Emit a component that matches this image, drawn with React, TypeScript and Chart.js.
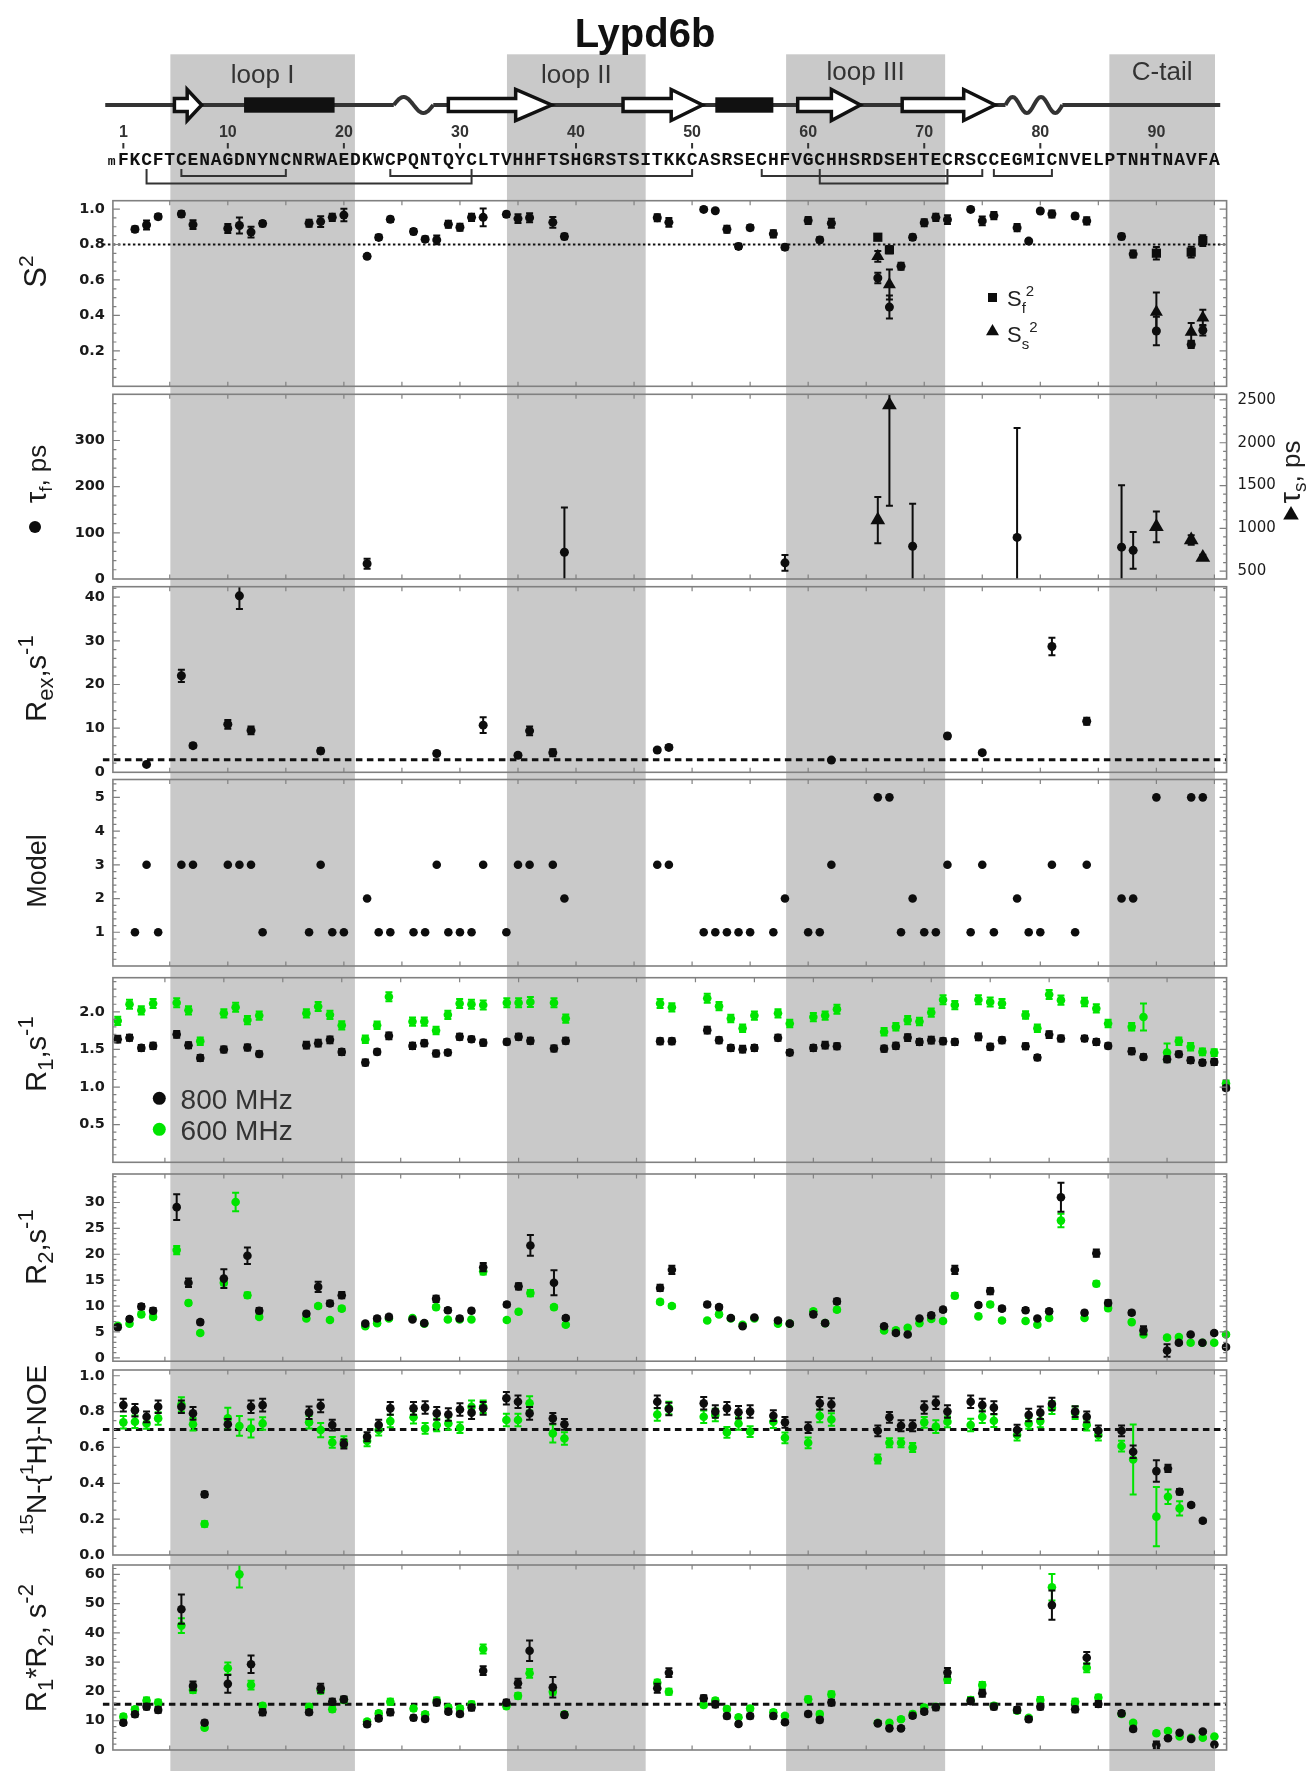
import React, { useEffect, useRef } from "react";
import { Chart, registerables } from "chart.js";
Chart.register(...registerables);

// ---------------- page / layout constants ----------------
const PAGE_W = 1306;
const PAGE_H = 1771;
const PLOT_LEFT = 112.9;
const PLOT_RIGHT = 1226.6;
const AXIS_W = 60;
const MARGIN = 26;
const SANS = '"Liberation Sans", Arial, sans-serif';
const TICKF = '"DejaVu Sans", sans-serif';
const MONO = '"Liberation Mono", "DejaVu Sans Mono", monospace';
const BLACK = "#0d0d0d";
const GREEN = "#00e400";
const FRAME = "#808080";
const BAND_COLOR = "#c9c9c9";
const BAND_TOP = 54.3;

// residue ranges of the x axes
const X_MAIN = [0.1, 96.05];
const X_RELAX = [0.59, 95.05];

// ---------------- header data ----------------
const TITLE = "Lypd6b";
const SEQUENCE = "mFKCFTCENAGDNYNCNRWAEDKWCPQNTQYCLTVHHFTSHGRSTSITKKCASRSECHFVGCHHSRDSEHTECRSCCEGMICNVELPTNHTNAVFA";
const RES_LABELS = [1, 10, 20, 30, 40, 50, 60, 70, 80, 90];
const REGIONS = [[5.05, 20.95], [34.05, 46], [58.1, 71.8], [85.95, 95.05]];
const REGION_NAMES = ["loop I", "loop II", "loop III", "C-tail"];
const REGION_LABEL_BASE = [83, 83, 80, 80];
const BACKBONE = [-0.56, 95.5];
const HELICES = [[11.4, 19.2], [52.0, 57.0]];
const STRANDS = [[5.4, 6.5, 7.75], [29.0, 34.8, 37.9], [44.05, 48.2, 50.9], [59.1, 62.0, 64.5], [68.1, 73.4, 76.1]];
const WAVES = [[24.3, 27.7, 1], [77.0, 81.9, 2]];
const DISULFIDES = [[3, 31, 1], [6, 15, 0], [24, 50, 0], [56, 75, 0], [61, 72, 1], [76, 81, 0]];

// ---------------- S2 panel ----------------
const s2Res = [2, 3, 4, 6, 7, 10, 11, 12, 13, 17, 18, 19, 20, 22, 23, 24, 26, 27, 28, 29, 30, 31, 32, 34, 35, 36, 38, 39, 47, 48,
  51, 52, 53, 54, 55, 57, 58, 60, 61, 62, 66, 67, 68, 69, 70, 71, 72, 74, 75, 76, 78, 79, 80, 81, 83, 84, 87, 88, 90, 93, 94];
const s2Val = [0.886, 0.91, 0.957, 0.972, 0.912, 0.89, 0.907, 0.87, 0.918, 0.92, 0.929, 0.953, 0.966, 0.733, 0.84, 0.942,
  0.873, 0.83, 0.826, 0.914, 0.897, 0.953, 0.953, 0.97, 0.946, 0.951, 0.925, 0.845, 0.951, 0.925,
  0.998, 0.99, 0.886, 0.789, 0.895, 0.86, 0.785, 0.935, 0.826, 0.92, 0.611, 0.447, 0.677, 0.841, 0.923, 0.953, 0.94,
  0.998, 0.933, 0.963, 0.895, 0.819, 0.989, 0.972, 0.96, 0.933, 0.845, 0.746, 0.312, 0.236, 0.316];
const s2Err = [0.015, 0.025, 0.015, 0.015, 0.025, 0.025, 0.045, 0.03, 0.015, 0.02, 0.03, 0.02, 0.035, 0.01, 0.015, 0.015,
  0.015, 0.015, 0.025, 0.02, 0.02, 0.02, 0.05, 0.015, 0.025, 0.025, 0.03, 0.015, 0.02, 0.025,
  0.01, 0.01, 0.02, 0.015, 0.015, 0.02, 0.015, 0.02, 0.015, 0.025, 0.03, 0.065, 0.02, 0.015, 0.02, 0.02, 0.025,
  0.01, 0.025, 0.02, 0.02, 0.01, 0.01, 0.02, 0.015, 0.02, 0.015, 0.02, 0.08, 0.02, 0.03];
const sf2Res = [66, 67, 90, 93, 94];
const sf2Val = [0.841, 0.77, 0.751, 0.757, 0.822];
const sf2Err = [0.01, 0.02, 0.035, 0.03, 0.03];
const ss2Res = [66, 67, 90, 93, 94];
const ss2Val = [0.733, 0.574, 0.419, 0.307, 0.387];
const ss2Err = [0.03, 0.085, 0.11, 0.05, 0.045];

// ---------------- tau panel ----------------
const tauFRes = [22, 39, 58, 69, 78, 87, 88];
const tauFVal = [33, 58, 35, 71, 90, 69, 62];
const tauFErr = [11, 97, 17, 92, 237, 134, 40];
const tauSRes = [66, 67, 90, 93, 94];
const tauSVal = [1096, 2441, 1018, 863, 660];
const tauSErr = [270, 1177, 180, 55, 30];

// ---------------- Rex panel ----------------
const rexRes = [3, 6, 7, 10, 11, 12, 18, 28, 32, 35, 36, 38, 47, 48, 62, 72, 75, 81, 84];
const rexVal = [1.7, 22.0, 6.0, 10.9, 40.3, 9.5, 4.8, 4.2, 10.7, 3.8, 9.4, 4.4, 5.0, 5.6, 2.7, 8.2, 4.4, 28.7, 11.6];
const rexErr = [0.3, 1.4, 0.5, 1.0, 3.0, 0.9, 0.6, 0.4, 1.8, 0.4, 1.0, 0.8, 0.4, 0.5, 0.3, 0.5, 0.4, 2.0, 0.8];

// ---------------- Model panel ----------------
const modelRes = s2Res;
const modelVal = [1, 3, 1, 3, 3, 3, 3, 3, 1, 1, 3, 1, 1, 2, 1, 1, 1, 1, 3, 1, 1, 1, 3, 1, 3, 3, 3, 2, 3, 3,
  1, 1, 1, 1, 1, 1, 2, 1, 1, 3, 5, 5, 1, 2, 1, 1, 3, 1, 3, 1, 2, 1, 1, 3, 1, 3, 2, 2, 5, 5, 5];

// ---------------- relaxation residues ----------------
const blackRes = [1, 2, 3, 4, 6, 7, 8, 10, 12, 13, 17, 18, 19, 20, 22, 23, 24, 26, 27, 28, 29, 30, 31, 32, 34, 35, 36, 38, 39,
  47, 48, 51, 52, 53, 54, 55, 57, 58, 60, 61, 62, 66, 67, 68, 69, 70, 71, 72, 74, 75, 76, 78, 79, 80, 81, 83, 84, 85, 87, 88,
  90, 91, 92, 93, 94, 95];
const greenRes = [1, 2, 3, 4, 6, 7, 8, 10, 11, 12, 13, 17, 18, 19, 20, 22, 23, 24, 26, 27, 28, 29, 30, 31, 32, 34, 35, 36, 38, 39,
  47, 48, 51, 52, 53, 54, 55, 57, 58, 60, 61, 62, 66, 67, 68, 69, 70, 71, 72, 74, 75, 76, 78, 79, 80, 81, 83, 84, 85, 87, 88,
  90, 91, 92, 93, 94, 95];
const noeBlackRes = [1, 2, 3, 4, 6, 7, 8, 10, 12, 13, 17, 18, 19, 20, 22, 23, 24, 26, 27, 28, 29, 30, 31, 32, 34, 35, 36, 38, 39,
  47, 48, 51, 52, 53, 54, 55, 57, 58, 60, 61, 62, 66, 67, 68, 69, 70, 71, 72, 74, 75, 76, 78, 79, 80, 81, 83, 84, 85, 87, 88,
  90, 91, 92, 93, 94];
const noeGreenRes = [1, 2, 3, 4, 6, 7, 8, 10, 11, 12, 13, 17, 18, 19, 20, 22, 23, 24, 26, 27, 28, 29, 30, 31, 32, 34, 35, 36, 38, 39,
  47, 48, 51, 52, 53, 54, 55, 57, 58, 60, 61, 62, 66, 67, 68, 69, 70, 71, 72, 74, 75, 76, 78, 79, 80, 81, 83, 84, 85, 87, 88,
  90, 91, 92];

// ---------------- R1 ----------------
const r1BlackVal = [1.636, 1.654, 1.52, 1.547, 1.70, 1.556, 1.387, 1.498, 1.525, 1.44, 1.556, 1.583, 1.627, 1.467,
  1.325, 1.467, 1.68, 1.547, 1.583, 1.445, 1.458, 1.667, 1.636, 1.59, 1.60, 1.667, 1.614, 1.512, 1.614,
  1.61, 1.61, 1.756, 1.623, 1.52, 1.503, 1.52, 1.654, 1.458, 1.52, 1.556, 1.543,
  1.51, 1.547, 1.658, 1.60, 1.623, 1.61, 1.60, 1.667, 1.534, 1.623, 1.543, 1.392, 1.698, 1.645,
  1.645, 1.60, 1.547, 1.476, 1.40, 1.37, 1.436, 1.356, 1.325, 1.334, 0.988];
const r1BlackErr = [0.045, 0.04, 0.04, 0.04, 0.045, 0.04, 0.04, 0.04, 0.04, 0.035, 0.045, 0.045, 0.045, 0.04,
  0.04, 0.035, 0.045, 0.04, 0.04, 0.04, 0.035, 0.04, 0.035, 0.04, 0.035, 0.04, 0.04, 0.04, 0.04,
  0.04, 0.04, 0.045, 0.04, 0.04, 0.045, 0.04, 0.04, 0.035, 0.04, 0.045, 0.04,
  0.04, 0.04, 0.045, 0.04, 0.045, 0.04, 0.04, 0.045, 0.04, 0.04, 0.04, 0.035, 0.045, 0.04,
  0.035, 0.04, 0.035, 0.04, 0.035, 0.04, 0.035, 0.035, 0.035, 0.04, 0.03];
const r1GreenVal = [1.88, 2.10, 2.02, 2.11, 2.12, 2.02, 1.61, 1.98, 2.06, 1.89, 1.95, 1.98, 2.07, 1.96, 1.82,
  1.636, 1.82, 2.20, 1.87, 1.87, 1.75, 1.96, 2.11, 2.10, 2.09, 2.12, 2.12, 2.13, 2.12, 1.91,
  2.11, 2.06, 2.18, 2.075, 1.91, 1.78, 1.95, 1.98, 1.845, 1.93, 1.95, 2.035,
  1.734, 1.80, 1.89, 1.87, 1.99, 2.16, 2.09, 2.16, 2.13, 2.11, 1.956, 1.78, 2.23, 2.155,
  2.13, 2.044, 1.845, 1.80, 1.93, 1.458, 1.61, 1.534, 1.467, 1.458, 1.046];
const r1GreenErr = [0.055, 0.06, 0.055, 0.06, 0.06, 0.055, 0.05, 0.055, 0.06, 0.055, 0.055, 0.055, 0.06, 0.055, 0.055,
  0.05, 0.05, 0.06, 0.055, 0.055, 0.05, 0.055, 0.06, 0.06, 0.06, 0.06, 0.06, 0.065, 0.06, 0.055,
  0.06, 0.055, 0.06, 0.055, 0.05, 0.05, 0.055, 0.055, 0.05, 0.055, 0.055, 0.06,
  0.05, 0.05, 0.055, 0.05, 0.055, 0.06, 0.055, 0.06, 0.06, 0.06, 0.05, 0.05, 0.06, 0.06,
  0.055, 0.055, 0.05, 0.05, 0.18, 0.12, 0.05, 0.05, 0.045, 0.045, 0.04];

// ---------------- R2 ----------------
const r2BlackVal = [5.9, 7.5, 9.9, 9.1, 29.1, 14.5, 6.9, 15.3, 19.7, 9.1, 8.5, 13.7, 10.5, 12.1, 6.6, 7.6, 7.9,
  7.4, 6.7, 11.4, 9.2, 7.6, 9.1, 17.5, 10.3, 13.8, 21.7, 14.5, 7.7, 13.5, 17.0,
  10.3, 9.8, 7.7, 6.1, 7.8, 7.2, 6.6, 8.4, 6.7, 10.9, 6.1, 4.8, 4.5, 7.6, 8.2, 9.3, 17.0,
  10.2, 12.9, 9.5, 9.2, 7.6, 9.0, 31.0, 8.7, 20.2, 10.6, 8.7, 5.3, 1.4, 2.9, 4.5, 2.9, 4.8, 2.1];
const r2BlackErr = [0.4, 0.4, 0.5, 0.5, 2.5, 0.8, 0.4, 1.8, 1.6, 0.5, 0.4, 1.0, 0.5, 0.6, 0.3, 0.4, 0.4,
  0.3, 0.3, 0.6, 0.4, 0.4, 0.4, 0.8, 0.4, 0.6, 2.0, 2.4, 0.4, 0.6, 0.8,
  0.4, 0.4, 0.3, 0.3, 0.3, 0.3, 0.3, 0.4, 0.3, 0.5, 0.3, 0.3, 0.3, 0.3, 0.4, 0.4, 0.8,
  0.4, 0.6, 0.4, 0.4, 0.3, 0.4, 2.8, 0.4, 0.7, 0.5, 0.4, 0.8, 1.2, 0.3, 0.3, 0.3, 0.3, 0.3];
const r2GreenVal = [6.2, 6.6, 8.4, 7.9, 20.8, 10.6, 4.8, 14.5, 30.1, 12.1, 7.9, 7.6, 10.0, 7.3, 9.5, 6.1, 6.7, 7.6,
  7.7, 6.6, 9.8, 7.4, 7.4, 7.4, 16.7, 7.3, 8.9, 12.5, 9.8, 6.4, 10.8, 10.0,
  7.2, 8.4, 7.6, 6.4, 7.6, 6.6, 6.6, 9.0, 6.7, 9.3, 5.3, 5.3, 5.8, 6.7, 7.5, 7.1, 12.0,
  8.0, 10.3, 7.2, 7.1, 6.4, 7.7, 26.5, 7.7, 14.3, 9.6, 6.9, 4.5, 3.9, 4.0, 2.9, 2.9, 2.9, 4.5];
const r2GreenErr = [0.3, 0.3, 0.4, 0.4, 0.8, 0.4, 0.3, 0.5, 1.8, 0.5, 0.3, 0.3, 0.4, 0.3, 0.4, 0.3, 0.3, 0.3,
  0.3, 0.3, 0.4, 0.3, 0.3, 0.3, 0.6, 0.3, 0.4, 0.6, 0.4, 0.3, 0.4, 0.4,
  0.3, 0.3, 0.3, 0.3, 0.3, 0.3, 0.3, 0.3, 0.3, 0.4, 0.3, 0.3, 0.3, 0.3, 0.3, 0.3, 0.5,
  0.3, 0.4, 0.3, 0.3, 0.3, 0.3, 1.3, 0.3, 0.5, 0.4, 0.3, 0.3, 0.3, 0.3, 0.3, 0.3, 0.3, 0.3];

// ---------------- NOE ----------------
const noeBlackVal = [0.836, 0.808, 0.771, 0.827, 0.827, 0.79, 0.338, 0.729, 0.827, 0.836, 0.794, 0.831, 0.725, 0.619,
  0.66, 0.725, 0.818, 0.818, 0.823, 0.79, 0.784, 0.812, 0.794, 0.818, 0.874, 0.855, 0.79, 0.762, 0.729,
  0.855, 0.814, 0.846, 0.80, 0.818, 0.796, 0.80, 0.777, 0.74, 0.71, 0.846, 0.84,
  0.693, 0.768, 0.721, 0.721, 0.823, 0.849, 0.80, 0.855, 0.836, 0.822, 0.697, 0.781, 0.794, 0.842,
  0.80, 0.771, 0.693, 0.693, 0.576, 0.468, 0.483, 0.353, 0.279, 0.191];
const noeBlackErr = [0.035, 0.035, 0.03, 0.035, 0.035, 0.035, 0.015, 0.03, 0.035, 0.035, 0.035, 0.035, 0.03, 0.025,
  0.025, 0.03, 0.035, 0.035, 0.035, 0.035, 0.035, 0.035, 0.035, 0.035, 0.035, 0.035, 0.035, 0.03, 0.03,
  0.035, 0.035, 0.035, 0.035, 0.035, 0.035, 0.035, 0.03, 0.03, 0.03, 0.035, 0.035,
  0.03, 0.03, 0.03, 0.03, 0.035, 0.035, 0.035, 0.035, 0.035, 0.035, 0.03, 0.035, 0.035, 0.035,
  0.03, 0.03, 0.03, 0.03, 0.035, 0.06, 0.02, 0.015, 0.01, 0.01];
const noeGreenVal = [0.74, 0.743, 0.734, 0.762, 0.84, 0.729, 0.173, 0.762, 0.72, 0.706, 0.734, 0.74, 0.697, 0.628, 0.632,
  0.636, 0.697, 0.747, 0.768, 0.706, 0.725, 0.734, 0.71, 0.827, 0.827, 0.753, 0.753, 0.846, 0.678, 0.65,
  0.784, 0.82, 0.771, 0.781, 0.684, 0.734, 0.688, 0.743, 0.654, 0.626, 0.775, 0.756,
  0.535, 0.626, 0.626, 0.60, 0.74, 0.716, 0.743, 0.725, 0.771, 0.749, 0.669, 0.734, 0.747, 0.822,
  0.794, 0.725, 0.669, 0.608, 0.533, 0.214, 0.325, 0.26];
const noeGreenErr = [0.035, 0.035, 0.03, 0.035, 0.04, 0.035, 0.015, 0.06, 0.055, 0.05, 0.035, 0.035, 0.04, 0.03, 0.03,
  0.03, 0.03, 0.035, 0.035, 0.03, 0.035, 0.035, 0.03, 0.035, 0.035, 0.035, 0.035, 0.04, 0.05, 0.035,
  0.035, 0.035, 0.035, 0.035, 0.03, 0.035, 0.03, 0.035, 0.03, 0.03, 0.035, 0.035,
  0.025, 0.025, 0.025, 0.025, 0.03, 0.035, 0.03, 0.035, 0.035, 0.035, 0.03, 0.03, 0.035, 0.035,
  0.035, 0.03, 0.03, 0.03, 0.195, 0.165, 0.04, 0.04];

// ---------------- R1*R2 ----------------
const rrBlackVal = [9.3, 12.2, 14.8, 13.7, 48.1, 21.9, 9.3, 22.6, 29.3, 12.9, 12.9, 21.1, 16.5, 17.3, 8.8, 10.8, 12.9,
  11.0, 10.6, 16.2, 13.1, 12.3, 14.5, 27.1, 16.2, 22.8, 33.9, 21.4, 12.0, 21.1, 26.4,
  17.7, 15.6, 11.6, 8.9, 11.6, 11.6, 9.5, 12.3, 10.3, 16.2, 9.1, 7.4, 7.4, 11.7, 13.1, 14.6, 26.5,
  16.7, 19.4, 14.8, 13.7, 10.5, 14.8, 49.5, 13.9, 31.5, 15.7, 12.5, 7.2, 1.7, 4.0, 5.9, 3.8, 6.3, 1.9];
const rrBlackErr = [0.8, 0.8, 1.0, 1.0, 5.0, 1.5, 0.8, 3.0, 3.0, 1.0, 0.8, 1.5, 1.0, 1.0, 0.8, 0.8, 1.0,
  0.8, 0.8, 1.0, 0.8, 0.8, 1.0, 1.5, 1.0, 1.5, 3.5, 3.5, 0.8, 1.5, 1.5,
  1.0, 1.0, 0.8, 0.6, 0.8, 0.8, 0.6, 0.8, 0.8, 1.0, 0.6, 0.6, 0.6, 0.8, 0.8, 1.0, 1.5,
  1.0, 1.2, 1.0, 1.0, 0.8, 1.0, 5.0, 1.0, 2.0, 1.0, 0.8, 0.8, 1.2, 0.4, 0.5, 0.4, 0.5, 0.3];
const rrGreenVal = [11.4, 13.9, 16.9, 16.2, 42.5, 20.5, 7.6, 27.9, 60.0, 22.2, 15.1, 14.8, 20.3, 13.9, 17.1, 9.7, 12.5, 16.5,
  14.2, 12.2, 16.9, 14.5, 14.2, 15.6, 34.5, 15.0, 18.5, 26.2, 19.9, 12.2, 23.0, 19.9,
  15.4, 16.9, 14.0, 11.2, 14.2, 12.9, 11.7, 17.3, 12.3, 19.0, 9.3, 9.3, 10.5, 12.3, 14.5, 14.8, 24.1,
  17.1, 22.2, 15.1, 13.4, 11.0, 17.1, 55.6, 16.5, 28.1, 17.9, 12.3, 9.3, 5.7, 6.5, 4.6, 4.2, 4.2, 4.6];
const rrGreenErr = [0.8, 0.8, 1.0, 1.0, 2.5, 1.0, 0.6, 2.0, 4.5, 1.5, 0.8, 0.8, 1.0, 0.8, 1.0, 0.6, 0.8, 1.0,
  0.8, 0.8, 1.0, 0.8, 0.8, 1.0, 1.5, 0.8, 1.0, 1.5, 1.0, 0.8, 1.0, 1.0,
  0.8, 0.8, 0.8, 0.6, 0.8, 0.8, 0.6, 1.0, 0.8, 1.0, 0.6, 0.6, 0.6, 0.8, 0.8, 0.8, 1.2,
  1.0, 1.0, 0.8, 0.8, 0.6, 1.0, 4.5, 1.0, 1.5, 1.0, 0.8, 0.6, 0.6, 0.5, 0.4, 0.4, 0.4, 0.4];

// ---------------- helpers ----------------
const pts = (res, val, err) => res.map((r, i) => ({ x: r, y: val[i], e: err ? err[i] : 0 }));

function richText(ctx, segs, x, y, rotate, color, align) {
  ctx.save();
  ctx.translate(x, y);
  if (rotate) ctx.rotate(-Math.PI / 2);
  ctx.fillStyle = color;
  ctx.textBaseline = "alphabetic";
  ctx.textAlign = "left";
  const widths = segs.map((s) => {
    ctx.font = `${s.s}px ${SANS}`;
    return ctx.measureText(s.t).width + (s.gap || 0);
  });
  const total = widths.reduce((a, b) => a + b, 0);
  let cx = align === "left" ? 0 : -total / 2;
  segs.forEach((s, i) => {
    ctx.font = `${s.s}px ${SANS}`;
    ctx.fillText(s.t, cx, s.dy || 0);
    cx += widths[i];
  });
  ctx.restore();
}

function triangle(ctx, x, y, r) {
  ctx.beginPath();
  ctx.moveTo(x, y - r);
  ctx.lineTo(x + r * 0.866, y + r * 0.5);
  ctx.lineTo(x - r * 0.866, y + r * 0.5);
  ctx.closePath();
  ctx.fill();
}

function dot(ctx, x, y, r) {
  ctx.beginPath();
  ctx.arc(x, y, r, 0, Math.PI * 2);
  ctx.fill();
}

const TITLE_X = 46;
const fmt1 = (v) => v.toFixed(1);
const fmt0 = (v) => String(Math.round(v));
const M = 29; // main title size
const SB = 22; // sub/superscript size

// ---------------- panels ----------------
const PANELS = [
  {
    key: "s2", top: 200.7, bottom: 386.3, xr: X_MAIN,
    y: { min: 0, max: 1.047, ticks: [0.2, 0.4, 0.6, 0.8, 1.0], minor: 0.05, fmt: fmt1 },
    series: [
      { data: pts(s2Res, s2Val, s2Err), color: BLACK, style: "circle", radius: 4.5 },
      { data: pts(sf2Res, sf2Val, sf2Err), color: BLACK, style: "rect", radius: 6.5 },
      { data: pts(ss2Res, ss2Val, ss2Err), color: BLACK, style: "triangle", radius: 7.5 },
    ],
    hline: { value: 0.8, dash: [2.5, 2.5], width: 2 },
    title: [{ t: "S", s: 31 }, { t: "2", s: 21, dy: -13 }], titleY: 271.5,
    extra: (ctx) => {
      ctx.fillStyle = BLACK;
      ctx.fillRect(988, 293, 9, 9);
      triangle(ctx, 992.5, 331.5, 7.5);
      richText(ctx, [{ t: "S", s: 22 }, { t: "f", s: 15, dy: 7 }, { t: "2", s: 15, dy: -10 }], 1007, 305.5, false, "#222", "left");
      richText(ctx, [{ t: "S", s: 22 }, { t: "s", s: 15, dy: 7 }, { t: "2", s: 15, dy: -10 }], 1007, 341.5, false, "#222", "left");
    },
  },
  {
    key: "tau", top: 394.3, bottom: 579, xr: X_MAIN,
    y: { min: 0, max: 400, ticks: [0, 100, 200, 300], minor: 20, fmt: fmt0 },
    y2: { min: 408, max: 2566, ticks: [500, 1000, 1500, 2000, 2500], minor: 100, fmt: fmt0 },
    series: [
      { data: pts(tauFRes, tauFVal, tauFErr), color: BLACK, style: "circle", radius: 4.5 },
      { data: pts(tauSRes, tauSVal, tauSErr), color: BLACK, style: "triangle", radius: 8.5, axis: "y2" },
    ],
    title: [{ t: "τ", s: 29 }, { t: "f", s: 19, dy: 6 }, { t: ", ps", s: 26 }], titleY: 474,
    extra: (ctx) => {
      ctx.fillStyle = BLACK;
      dot(ctx, 35, 527, 6);
      richText(ctx, [{ t: "τ", s: 29 }, { t: "s", s: 19, dy: 6 }, { t: ", ps", s: 26 }], 1300, 472, true, "#222", "center");
      triangle(ctx, 1291, 515, 9);
    },
  },
  {
    key: "rex", top: 586.7, bottom: 772.3, xr: X_MAIN,
    y: { min: -0.1, max: 42.4, ticks: [0, 10, 20, 30, 40], minor: 2, fmt: fmt0 },
    series: [{ data: pts(rexRes, rexVal, rexErr), color: BLACK, style: "circle", radius: 4.5 }],
    hline: { value: 2.8, dash: [6.5, 4.5], width: 3 },
    title: [{ t: "R", s: M }, { t: "ex", s: SB, dy: 7 }, { t: ",s", s: M }, { t: "-1", s: SB, dy: -13 }], titleY: 678.5,
  },
  {
    key: "model", top: 779.5, bottom: 966, xr: X_MAIN,
    y: { min: 0, max: 5.53, ticks: [1, 2, 3, 4, 5], minor: 0.2, fmt: fmt0 },
    series: [{ data: pts(modelRes, modelVal, null), color: BLACK, style: "circle", radius: 4.3 }],
    title: [{ t: "Model", s: 27 }], titleY: 871,
  },
  {
    key: "r1", top: 977.7, bottom: 1162.3, xr: X_RELAX,
    y: { min: 0, max: 2.453, ticks: [0.5, 1.0, 1.5, 2.0], minor: 0.1, fmt: fmt1 },
    series: [
      { data: pts(blackRes, r1BlackVal, r1BlackErr), color: BLACK, style: "circle", radius: 4.3 },
      { data: pts(greenRes, r1GreenVal, r1GreenErr), color: GREEN, style: "circle", radius: 4.3 },
    ],
    title: [{ t: "R", s: M }, { t: "1", s: SB, dy: 7 }, { t: ",s", s: M }, { t: "-1", s: SB, dy: -13 }], titleY: 1054,
    extra: (ctx) => {
      ctx.fillStyle = BLACK;
      dot(ctx, 159.3, 1098.3, 6.5);
      ctx.fillStyle = GREEN;
      dot(ctx, 159.3, 1129.3, 6.5);
      ctx.fillStyle = "#333";
      ctx.font = `28px ${SANS}`;
      ctx.textAlign = "left";
      ctx.textBaseline = "alphabetic";
      ctx.fillText("800 MHz", 180.6, 1108.5);
      ctx.fillText("600 MHz", 180.6, 1139.5);
    },
  },
  {
    key: "r2", top: 1174, bottom: 1361.2, xr: X_RELAX,
    y: { min: -0.65, max: 35.5, ticks: [0, 5, 10, 15, 20, 25, 30], minor: 1, fmt: fmt0 },
    series: [
      { data: pts(blackRes, r2BlackVal, r2BlackErr), color: BLACK, style: "circle", radius: 4.3 },
      { data: pts(greenRes, r2GreenVal, r2GreenErr), color: GREEN, style: "circle", radius: 4.3 },
    ],
    title: [{ t: "R", s: M }, { t: "2", s: SB, dy: 7 }, { t: ",s", s: M }, { t: "-1", s: SB, dy: -13 }], titleY: 1247,
  },
  {
    key: "noe", top: 1370, bottom: 1555, xr: X_MAIN,
    y: { min: 0, max: 1.032, ticks: [0, 0.2, 0.4, 0.6, 0.8, 1.0], minor: 0.05, fmt: fmt1 },
    series: [
      { data: pts(noeBlackRes, noeBlackVal, noeBlackErr), color: BLACK, style: "circle", radius: 4.3 },
      { data: pts(noeGreenRes, noeGreenVal, noeGreenErr), color: GREEN, style: "circle", radius: 4.3 },
    ],
    hline: { value: 0.7, dash: [6.5, 4.5], width: 3 },
    title: [{ t: "15", s: 19, dy: -13 }, { t: "N-{", s: 28 }, { t: "1", s: 19, dy: -13 }, { t: "H}-NOE", s: 28 }], titleY: 1450,
  },
  {
    key: "rr", top: 1565, bottom: 1750, xr: X_MAIN,
    y: { min: 0, max: 63.2, ticks: [0, 10, 20, 30, 40, 50, 60], minor: 2, fmt: fmt0 },
    series: [
      { data: pts(blackRes, rrBlackVal, rrBlackErr), color: BLACK, style: "circle", radius: 4.3 },
      { data: pts(greenRes, rrGreenVal, rrGreenErr), color: GREEN, style: "circle", radius: 4.3 },
    ],
    hline: { value: 15.6, dash: [6.5, 4.5], width: 3 },
    title: [{ t: "R", s: M }, { t: "1", s: SB, dy: 7 }, { t: "*R", s: M }, { t: "2", s: SB, dy: 7 }, { t: ", s", s: M }, { t: "-2", s: SB, dy: -13 }], titleY: 1648,
  },
];

function geom(p) {
  const top = Math.floor(p.top) - MARGIN;
  const h = Math.ceil(p.bottom) + MARGIN - top;
  return { top, h, padTop: p.top - top, padBottom: top + h - p.bottom };
}

// ---------------- header chart ----------------
const headerPlugin = {
  id: "header",
  beforeDraw(chart) {
    const ctx = chart.ctx;
    const xs = chart.scales.x;
    const X = (r) => xs.getPixelForValue(r);
    ctx.save();
    ctx.fillStyle = "#fff";
    ctx.fillRect(0, 0, PAGE_W, PAGE_H);
    ctx.fillStyle = BAND_COLOR;
    REGIONS.forEach(([a, b]) => ctx.fillRect(X(a), BAND_TOP, X(b) - X(a), PAGE_H - BAND_TOP));

    ctx.textBaseline = "alphabetic";
    ctx.textAlign = "center";
    ctx.fillStyle = "#111";
    ctx.font = `bold 40px ${SANS}`;
    ctx.fillText(TITLE, 645, 47);

    ctx.fillStyle = "#333";
    ctx.font = `26px ${SANS}`;
    REGION_NAMES.forEach((n, i) => {
      const [a, b] = REGIONS[i];
      ctx.fillText(n, (X(a) + X(b)) / 2, REGION_LABEL_BASE[i]);
    });

    // backbone line with gaps for the wavy loops
    const yc = 105;
    ctx.strokeStyle = "#333";
    ctx.lineWidth = 4;
    ctx.beginPath();
    let start = BACKBONE[0];
    WAVES.forEach(([a, b]) => {
      ctx.moveTo(X(start), yc);
      ctx.lineTo(X(a), yc);
      start = b;
    });
    ctx.moveTo(X(start), yc);
    ctx.lineTo(X(BACKBONE[1]), yc);
    ctx.stroke();
    WAVES.forEach(([a, b, n]) => {
      const x0 = X(a), x1 = X(b);
      ctx.beginPath();
      for (let i = 0; i <= 80; i++) {
        const t = i / 80;
        const px = x0 + t * (x1 - x0);
        const py = yc - 8 * Math.sin(2 * Math.PI * n * t);
        if (i === 0) ctx.moveTo(px, py); else ctx.lineTo(px, py);
      }
      ctx.stroke();
    });

    ctx.fillStyle = "#111";
    HELICES.forEach(([a, b]) => ctx.fillRect(X(a), yc - 7.7, X(b) - X(a), 15.4));

    STRANDS.forEach(([a, h, b]) => {
      const x0 = X(a), xh = X(h), x1 = X(b);
      ctx.beginPath();
      ctx.moveTo(x0, yc - 6.5);
      ctx.lineTo(xh, yc - 6.5);
      ctx.lineTo(xh, yc - 15.5);
      ctx.lineTo(x1, yc);
      ctx.lineTo(xh, yc + 15.5);
      ctx.lineTo(xh, yc + 6.5);
      ctx.lineTo(x0, yc + 6.5);
      ctx.closePath();
      ctx.fillStyle = "#fff";
      ctx.fill();
      ctx.lineWidth = 3.5;
      ctx.lineJoin = "miter";
      ctx.strokeStyle = "#111";
      ctx.stroke();
    });

    ctx.fillStyle = "#333";
    ctx.font = `bold 16px ${SANS}`;
    RES_LABELS.forEach((r) => ctx.fillText(String(r), X(r), 137));
    ctx.strokeStyle = "#333";
    ctx.lineWidth = 2;
    ctx.beginPath();
    RES_LABELS.forEach((r) => {
      ctx.moveTo(X(r), 143);
      ctx.lineTo(X(r), 148.5);
    });
    ctx.stroke();

    ctx.fillStyle = "#111";
    for (let k = 0; k < SEQUENCE.length; k++) {
      ctx.font = k === 0 ? `bold 13px ${MONO}` : `bold 18px ${MONO}`;
      ctx.fillText(SEQUENCE[k], X(k), 164.5);
    }

    ctx.strokeStyle = "#333";
    ctx.lineWidth = 2;
    ctx.beginPath();
    DISULFIDES.forEach(([a, b, lvl]) => {
      const yl = lvl ? 183.5 : 176;
      ctx.moveTo(X(a), 169);
      ctx.lineTo(X(a), yl);
      ctx.lineTo(X(b), yl);
      ctx.lineTo(X(b), 169);
    });
    ctx.stroke();
    ctx.restore();
  },
};

function headerConfig() {
  return {
    type: "scatter",
    data: { datasets: [{ data: [] }] },
    options: {
      responsive: false,
      maintainAspectRatio: false,
      devicePixelRatio: 1,
      animation: false,
      events: [],
      layout: { padding: { left: PLOT_LEFT, right: PAGE_W - PLOT_RIGHT, top: 0, bottom: 0 } },
      plugins: { legend: { display: false }, tooltip: { enabled: false } },
      scales: {
        x: { type: "linear", min: X_MAIN[0], max: X_MAIN[1], display: false },
        y: { type: "linear", min: 0, max: 1, display: false },
      },
    },
    plugins: [headerPlugin],
  };
}

// ---------------- panel charts ----------------
function stepValues(min, max, step) {
  const out = [];
  for (let i = Math.ceil(min / step - 1e-9); i * step <= max + 1e-9; i++) out.push(i * step);
  return out;
}

function panelPlugin(p, g) {
  return {
    id: "deco",
    beforeDatasetsDraw(chart) {
      if (!p.hline) return;
      const ctx = chart.ctx;
      const a = chart.chartArea;
      const y = chart.scales.y.getPixelForValue(p.hline.value);
      ctx.save();
      ctx.setLineDash(p.hline.dash);
      ctx.lineWidth = p.hline.width;
      ctx.strokeStyle = "#111";
      ctx.beginPath();
      ctx.moveTo(a.left - 10, y);
      ctx.lineTo(a.right, y);
      ctx.stroke();
      ctx.restore();
    },
    beforeDatasetDraw(chart, args) {
      const ds = chart.data.datasets[args.index];
      const xs = chart.scales.x;
      const ys = chart.scales[args.meta.yAxisID];
      const a = chart.chartArea;
      const ctx = chart.ctx;
      ctx.save();
      ctx.strokeStyle = ds.pointBackgroundColor;
      ctx.lineWidth = 2;
      ctx.setLineDash([]);
      ctx.beginPath();
      ds.data.forEach((pt) => {
        if (!pt.e) return;
        const px = xs.getPixelForValue(pt.x);
        let yt = ys.getPixelForValue(pt.y + pt.e);
        let yb = ys.getPixelForValue(pt.y - pt.e);
        const capT = yt >= a.top;
        const capB = yb <= a.bottom;
        yt = Math.max(yt, a.top);
        yb = Math.min(yb, a.bottom);
        ctx.moveTo(px, yt);
        ctx.lineTo(px, yb);
        if (capT) { ctx.moveTo(px - 3.5, yt); ctx.lineTo(px + 3.5, yt); }
        if (capB) { ctx.moveTo(px - 3.5, yb); ctx.lineTo(px + 3.5, yb); }
      });
      ctx.stroke();
      ctx.restore();
    },
    afterDraw(chart) {
      const ctx = chart.ctx;
      const a = chart.chartArea;
      const xs = chart.scales.x;
      const ys = chart.scales.y;
      ctx.save();
      ctx.setLineDash([]);
      ctx.strokeStyle = FRAME;
      ctx.lineWidth = 1.2;
      ctx.beginPath();
      const yTicks = (scale, spec, left, right) => {
        stepValues(spec.min, spec.max, spec.minor).forEach((v) => {
          const py = scale.getPixelForValue(v);
          if (py < a.top + 1 || py > a.bottom - 1) return;
          const major = spec.ticks.some((t) => Math.abs(t - v) < 1e-6);
          const len = major ? 7 : 3.5;
          if (left) { ctx.moveTo(a.left, py); ctx.lineTo(a.left + len, py); }
          if (right) { ctx.moveTo(a.right, py); ctx.lineTo(a.right - len, py); }
        });
      };
      yTicks(ys, p.y, true, !p.y2);
      if (p.y2) yTicks(chart.scales.y2, p.y2, false, true);
      stepValues(p.xr[0], p.xr[1], 5).forEach((r) => {
        const px = xs.getPixelForValue(r);
        if (px < a.left + 1 || px > a.right - 1) return;
        ctx.moveTo(px, a.top); ctx.lineTo(px, a.top + 4.5);
        ctx.moveTo(px, a.bottom); ctx.lineTo(px, a.bottom - 4.5);
      });
      ctx.stroke();
      ctx.lineWidth = 1.6;
      ctx.strokeRect(a.left, a.top, a.right - a.left, a.bottom - a.top);
      ctx.restore();

      ctx.save();
      ctx.translate(0, -g.top);
      richText(ctx, p.title, TITLE_X, p.titleY, true, "#1a1a1a", "center");
      if (p.extra) p.extra(ctx);
      ctx.restore();
    },
  };
}

function yAxis(spec, position, bold) {
  return {
    type: "linear",
    position,
    min: spec.min,
    max: spec.max,
    grid: { display: false, drawTicks: false },
    border: { display: false },
    afterBuildTicks: (scale) => {
      scale.ticks = spec.ticks.map((v) => ({ value: v }));
    },
    afterFit: (scale) => {
      scale.width = AXIS_W;
    },
    ticks: {
      autoSkip: false,
      padding: position === "left" ? 8 : 11,
      color: "#1a1a1a",
      font: bold ? { family: TICKF, size: 14.5, weight: "bold" } : { family: TICKF, size: 15, weight: "normal" },
      callback: (v) => spec.fmt(Number(v)),
    },
  };
}

function panelConfig(p) {
  const g = geom(p);
  const scales = {
    x: { type: "linear", min: p.xr[0], max: p.xr[1], display: false },
    y: yAxis(p.y, "left", true),
  };
  if (p.y2) scales.y2 = yAxis(p.y2, "right", false);
  return {
    type: "scatter",
    data: {
      datasets: p.series.map((s) => ({
        data: s.data,
        yAxisID: s.axis || "y",
        pointStyle: s.style,
        pointRadius: s.radius,
        pointHoverRadius: s.radius,
        pointBackgroundColor: s.color,
        pointBorderColor: s.color,
        pointBorderWidth: 0,
        showLine: false,
        clip: false,
      })),
    },
    options: {
      responsive: false,
      maintainAspectRatio: false,
      devicePixelRatio: 1,
      animation: false,
      events: [],
      layout: {
        padding: {
          left: PLOT_LEFT - AXIS_W,
          right: PAGE_W - PLOT_RIGHT - (p.y2 ? AXIS_W : 0),
          top: g.padTop,
          bottom: g.padBottom,
        },
      },
      plugins: { legend: { display: false }, tooltip: { enabled: false } },
      scales,
    },
    plugins: [panelPlugin(p, g)],
  };
}

export default function App() {
  const bgRef = useRef(null);
  const panelRefs = useRef([]);

  useEffect(() => {
    const charts = [];
    if (bgRef.current) charts.push(new Chart(bgRef.current, headerConfig()));
    PANELS.forEach((p, i) => {
      const el = panelRefs.current[i];
      if (el) charts.push(new Chart(el, panelConfig(p)));
    });
    return () => charts.forEach((c) => c.destroy());
  }, []);

  return (
    <div style={{ position: "absolute", left: 0, top: 0, width: PAGE_W, height: PAGE_H, background: "#fff", overflow: "hidden" }}>
      <canvas ref={bgRef} width={PAGE_W} height={PAGE_H} style={{ position: "absolute", left: 0, top: 0, width: PAGE_W, height: PAGE_H }} />
      {PANELS.map((p, i) => {
        const g = geom(p);
        return (
          <canvas
            key={p.key}
            ref={(el) => { panelRefs.current[i] = el; }}
            width={PAGE_W}
            height={g.h}
            style={{ position: "absolute", left: 0, top: g.top, width: PAGE_W, height: g.h }}
          />
        );
      })}
    </div>
  );
}
